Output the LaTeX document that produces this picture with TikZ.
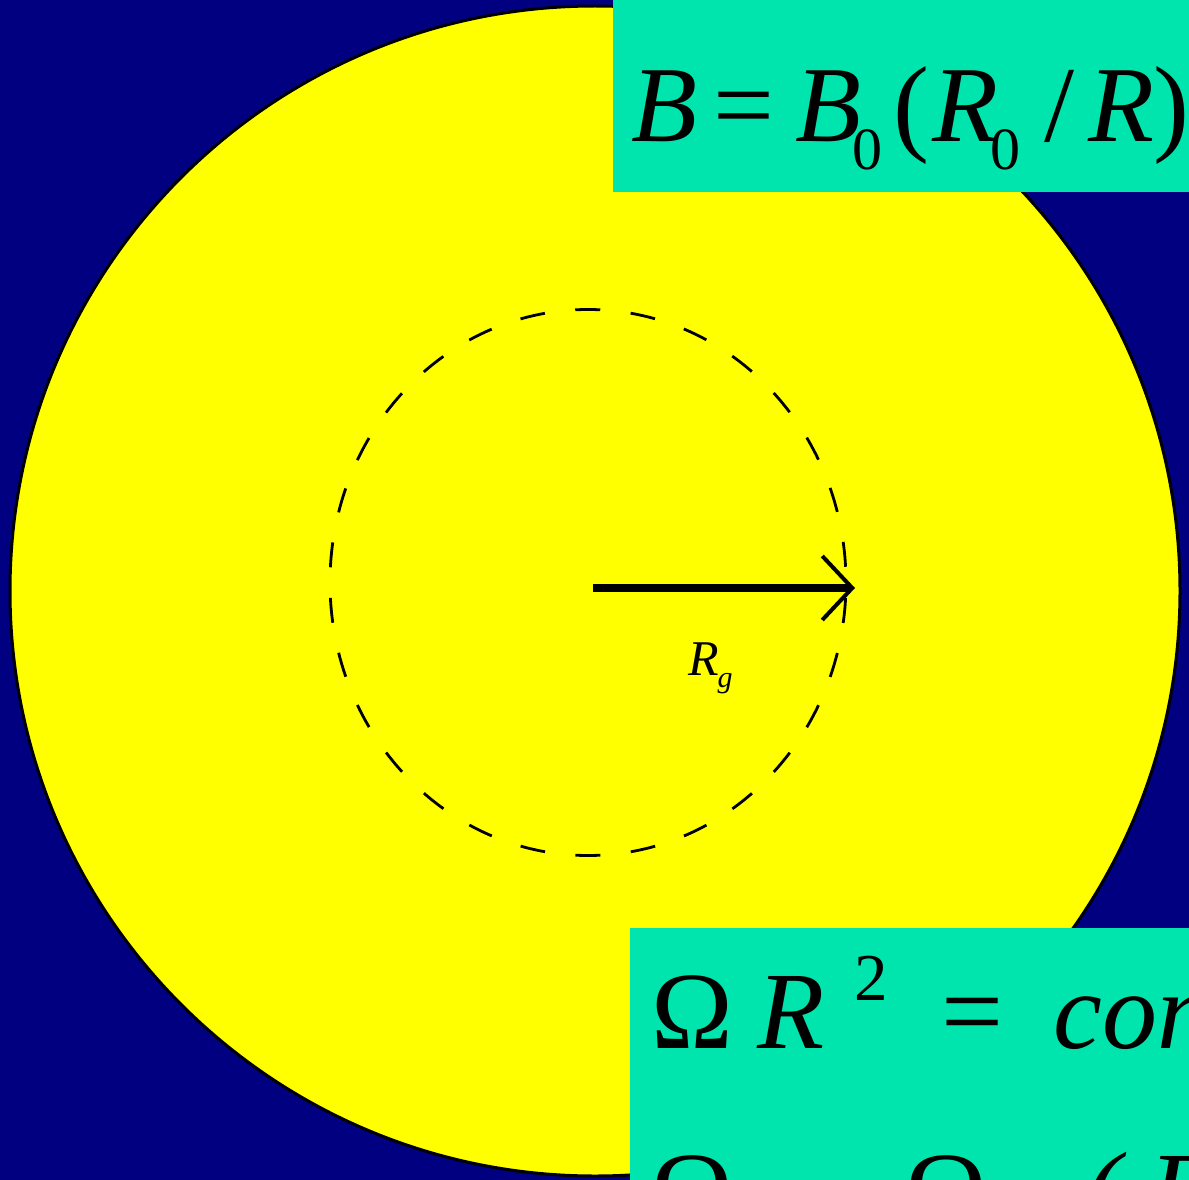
\documentclass[tikz,border=0pt]{standalone}
\usepackage{fontspec}
\setmainfont{Liberation Serif}
\usetikzlibrary{arrows.meta}
\definecolor{navybg}{RGB}{0,0,128}
\definecolor{eqgreen}{RGB}{0,229,173}
\definecolor{disk}{RGB}{255,255,0}
\tikzset{
  eqtext/.style={anchor=base west, inner sep=0pt, outer sep=0pt, text=black},
  eqbox/.style={fill=eqgreen},
  radiusarrow/.style={line width=7.5pt, -{Straight Barb[length=30pt, width=64pt, line width=4pt]}},
  orbit/.style={line width=2.8pt, dash pattern=on 25pt off 30.6pt, dash phase=40pt},
}
\begin{document}
\begin{tikzpicture}[x=1pt, y=-1pt]
\useasboundingbox (0,0) rectangle (1189,1180);
\clip (0,0) rectangle (1189,1180);
\fill[navybg] (0,0) rectangle (1189,1180);
% galaxy disk
\draw[fill=disk, line width=3pt] (595,591) circle [radius=585];
% dashed circle of radius R_g
\draw[orbit] (588,582.5) ellipse [x radius=258, y radius=273];
% radius arrow
\coordinate (centre) at (593,588);
\coordinate (rim) at (855,588);
\draw[radiusarrow] (centre) -- (rim);
\node[eqtext] (rg) at (688,675) {\fontsize{50}{50}\selectfont\itshape R\kern-1pt\raisebox{-12pt}{\fontsize{30}{30}\selectfont g}};
% top equation box
\fill[eqbox] (613,0) rectangle (1189,192);
\node[eqtext] (eqB) at (631,142) {\fontsize{108}{108}\selectfont\itshape B\kern17pt\upshape=\kern21pt\itshape B\kern-9pt\raisebox{-28pt}{\fontsize{60}{60}\selectfont\upshape 0}\kern11pt\upshape(\kern3pt\itshape R\kern-8pt\raisebox{-28pt}{\fontsize{60}{60}\selectfont\upshape 0}\kern24pt\upshape/\kern14pt\itshape R\kern-1pt\upshape)};
% bottom equation box
\fill[eqbox] (630,928) rectangle (1189,1180);
\node[eqtext] (eqOmegaA) at (651,1048) {\fontsize{110}{110}\selectfont Ω\kern25pt\itshape R\kern30pt\raisebox{48pt}{\fontsize{67}{67}\selectfont\upshape 2}\kern53pt\upshape=\kern50pt\itshape const};
\node[eqtext] (eqOmegaB) at (651,1228) {\fontsize{110}{110}\selectfont\rlap{Ω}\kern255pt\rlap{Ω}\kern178pt\rlap{\itshape(}\kern66pt\rlap{\itshape R}};
\end{tikzpicture}
\end{document}
